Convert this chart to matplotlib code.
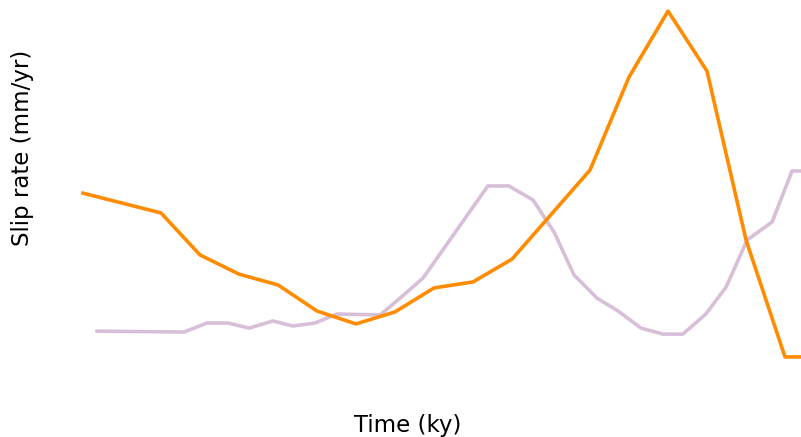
import matplotlib
matplotlib.use("Agg")
import matplotlib.pyplot as plt

# orange series
t_orange = [0, 2, 3, 4, 5, 6, 7, 8, 9, 10, 11, 13, 14, 15, 16, 17, 18, 19]
slip_orange = [6.23, 5.57, 4.17, 3.53, 3.17, 2.30, 1.87, 2.27, 3.07, 3.27,
               4.03, 7.0, 10.1, 12.3, 10.3, 4.67, 0.77, 0.77]

# purple series
t_purple = [0.36, 2.59, 3.18, 3.72, 4.26, 4.87, 5.38, 5.95, 6.51, 7.62, 8.13,
            8.72, 10.38, 10.92, 11.54, 12.08, 12.59, 13.18, 13.72, 14.31,
            14.87, 15.38, 15.97, 16.49, 17.03, 17.67, 18.18, 18.7]
slip_purple = [1.63, 1.60, 1.9, 1.9, 1.73, 1.97, 1.8, 1.9, 2.2, 2.17, 2.73,
               3.4, 6.47, 6.47, 6.0, 4.93, 3.5, 2.73, 2.3, 1.73,
               1.53, 1.53, 2.2, 3.1, 4.67, 5.27, 6.97, 6.97]

fig = plt.figure(figsize=(8.01, 4.37), dpi=100)
ax = fig.add_axes([0, 0, 1, 1])

ax.plot(t_purple, slip_purple, color="thistle", linewidth=2.6, zorder=2)
ax.plot(t_orange, slip_orange, color="darkorange", linewidth=2.6, zorder=3)

ax.set_xlim(-2.128, 18.41)
ax.set_ylim(-1.9, 12.67)
ax.set_xticks([])
ax.set_yticks([])
for s in ax.spines.values():
    s.set_visible(False)

ax.set_xlabel("Time (ky)", fontsize=16.5)
ax.set_ylabel("Slip rate (mm/yr)", fontsize=16.5)
ax.xaxis.set_label_coords(408 / 801, (437 - 414) / 437)
ax.yaxis.set_label_coords(34 / 801, (437 - 148) / 437)

fig.savefig("out.png", dpi=100)
